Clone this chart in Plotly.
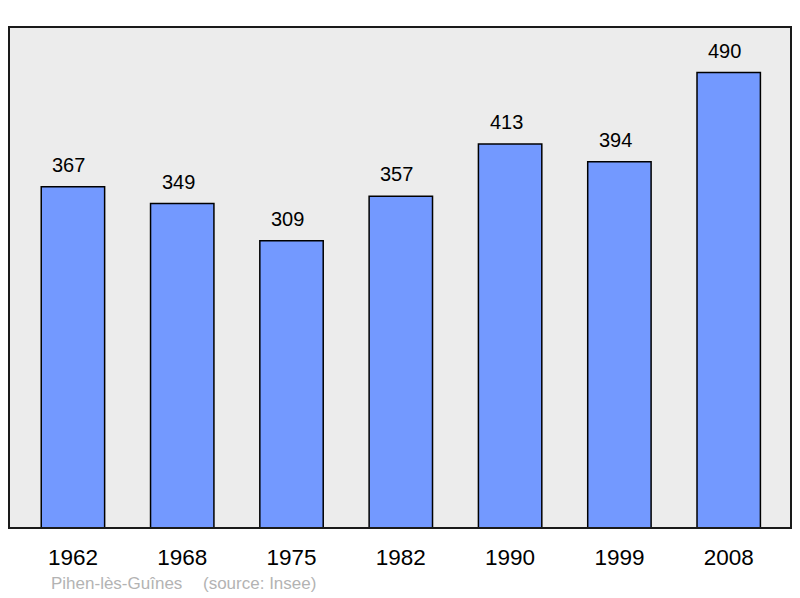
import plotly.graph_objects as go

years = ["1962", "1968", "1975", "1982", "1990", "1999", "2008"]
population = [367, 349, 309, 357, 413, 394, 490]
place_name = "Pihen-lès-Guînes"
source_name = "(source: Insee)"

FONT = "Liberation Sans, Arial, sans-serif"

fig = go.Figure()
fig.add_trace(go.Bar(
    x=years, y=population, width=0.58,
    marker=dict(color="#7399ff", line=dict(color="#000000", width=1.5)),
    hoverinfo="skip",
))

# category axis: annotation x given as category index
for i, v in enumerate(population):
    fig.add_annotation(x=i, y=v, text=str(v), showarrow=False,
                       xref="x", yref="y",
                       yanchor="middle", yshift=22, xshift=-4,
                       font=dict(family=FONT, size=20, color="#000"))

fig.add_annotation(xref="paper", yref="paper", x=0.0512, y=0, yshift=-55,
                   xanchor="left", yanchor="middle", text=place_name, showarrow=False,
                   font=dict(family=FONT, size=17, color="#b3b3b3"))
fig.add_annotation(xref="paper", yref="paper", x=0.2455, y=0, yshift=-55,
                   xanchor="left", yanchor="middle", text=source_name, showarrow=False,
                   font=dict(family=FONT, size=17, color="#b3b3b3"))

fig.add_shape(type="rect", xref="paper", yref="paper", x0=0, x1=1, y0=0, y1=1,
              line=dict(color="#1a1a1a", width=2), layer="above")

fig.update_layout(
    width=784, height=590,
    margin=dict(l=1, r=1, t=19, b=70),
    paper_bgcolor="#ffffff", plot_bgcolor="#ececec",
    showlegend=False,
    xaxis=dict(type="category", range=[-0.585, 6.57], showgrid=False, zeroline=False, ticks="",
               tickfont=dict(family=FONT, size=22.5, color="#000"),
               ticklabelstandoff=13, fixedrange=True),
    yaxis=dict(range=[0, 539], showgrid=False, zeroline=False, showticklabels=False,
               ticks="", fixedrange=True),
)

fig.write_html("out.html")
